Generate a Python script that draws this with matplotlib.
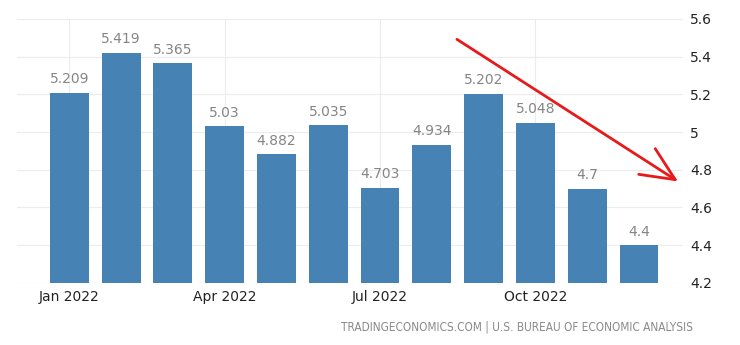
import matplotlib.pyplot as plt
import numpy as np

months = ['Jan', 'Feb', 'Mar', 'Apr', 'May', 'Jun', 'Jul', 'Aug', 'Sep', 'Oct', 'Nov', 'Dec']
values = [5.209, 5.419, 5.365, 5.03, 4.882, 5.035, 4.703, 4.934, 5.202, 5.048, 4.7, 4.4]
labels = ['5.209', '5.419', '5.365', '5.03', '4.882', '5.035', '4.703', '4.934', '5.202', '5.048', '4.7', '4.4']
tick_idx = [0, 3, 6, 9]
tick_labels = ['Jan 2022', 'Apr 2022', 'Jul 2022', 'Oct 2022']
yticks = [4.2, 4.4, 4.6, 4.8, 5.0, 5.2, 5.4, 5.6]
ytick_labels = ['4.2', '4.4', '4.6', '4.8', '5', '5.2', '5.4', '5.6']

fig = plt.figure(figsize=(7.4, 3.45), dpi=100)
ax = fig.add_axes([0.023, 0.18, 0.90, 0.765])

x = np.arange(len(values))
ax.bar(x, values, width=0.75, color='#4682b4', zorder=3)
for xi, v, lab in zip(x, values, labels):
    ax.text(xi, v + 0.035, lab, ha='center', va='bottom', fontsize=10, color='#858585')

ax.set_ylim(4.2, 5.6)
ax.set_xlim(-1.01, 11.85)
ax.set_yticks(yticks)
ax.set_yticklabels(ytick_labels)
ax.yaxis.tick_right()
ax.set_xticks(tick_idx)
ax.set_xticklabels(tick_labels)
ax.tick_params(axis='both', length=0, labelsize=10, colors='#222222')
ax.tick_params(axis='y', pad=5)
ax.tick_params(axis='x', pad=5)
ax.grid(True, color='#ececec', linewidth=0.8, zorder=0)
for s in ax.spines.values():
    s.set_visible(False)

# trend arrow
ax.annotate('', xy=(11.8, 4.73), xytext=(7.44, 5.5),
            arrowprops=dict(arrowstyle='->,head_length=1.1,head_width=0.5',
                            color='#e8191b', lw=2, mutation_scale=22),
            annotation_clip=False, zorder=5)

fig.text(0.937, 0.052, 'TRADINGECONOMICS.COM | U.S. BUREAU OF ECONOMIC ANALYSIS',
         ha='right', va='center', fontsize=8.5, color='#8a8a8a',
         family=['Liberation Sans Narrow', 'DejaVu Sans'], stretch='condensed')

fig.savefig('out.png', dpi=100)
